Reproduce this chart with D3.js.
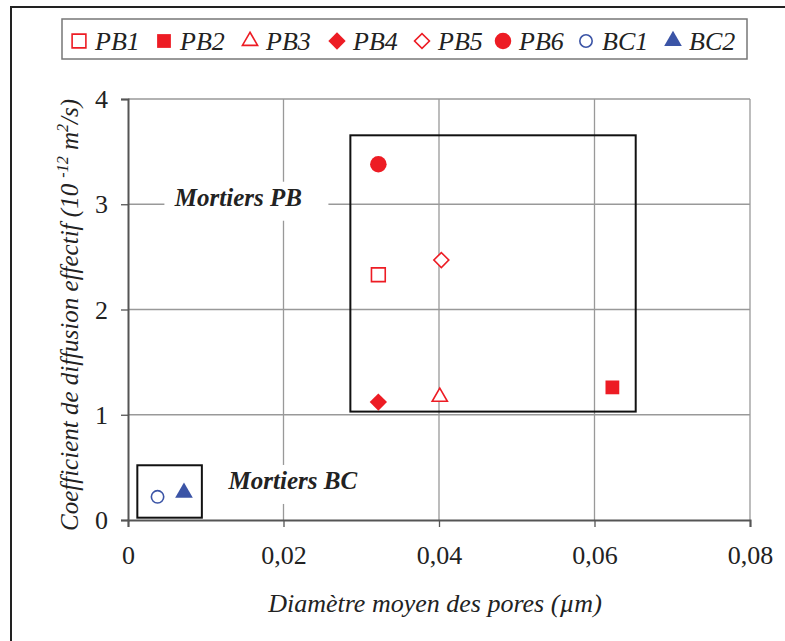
<!DOCTYPE html>
<html>
<head>
<meta charset="utf-8">
<script src="https://cdn.jsdelivr.net/npm/d3@7"></script>
<style>
  body { margin: 0; background: #fff; }
  #chart text { font-family: "Liberation Serif", "Times New Roman", Times, serif; }
</style>
</head>
<body>
<svg id="chart" width="785" height="641"></svg>
<script>
// series
var names   = ["PB1", "PB2", "PB3", "PB4", "PB5", "PB6", "BC1", "BC2"];
var diam    = [0.0322, 0.0623, 0.0401, 0.0322, 0.0403, 0.0322, 0.0038, 0.0072];
var coef    = [2.33, 1.26, 1.17, 1.12, 2.47, 3.38, 0.22, 0.26];
var shapes  = ["square", "square", "triangle", "diamond", "diamond", "circle", "circle", "triangle"];
var filled  = [false, true, false, true, false, true, false, true];
var colors  = ["#ed1c24", "#ed1c24", "#ed1c24", "#ed1c24", "#ed1c24", "#ed1c24", "#3b54a6", "#3b54a6"];

var xTicks = [0, 0.02, 0.04, 0.06, 0.08];
var xTickLabels = ["0", "0,02", "0,04", "0,06", "0,08"];
var yTicks = [0, 1, 2, 3, 4];
var yTickLabels = ["0", "1", "2", "3", "4"];

// group boxes (data units) and their labels
var groupNames = ["Mortiers PB", "Mortiers BC"];
var groupX0 = [0.0286, 0.0012];
var groupX1 = [0.0653, 0.0095];
var groupY0 = [1.03, 0.022];
var groupY1 = [3.655, 0.52];
var groupLabelX = [0.0142, 0.0212];
var groupLabelY = [2.986, 0.295];

var svg = d3.select("#chart");

var x = d3.scaleLinear().domain([0, 0.08]).range([128, 750]);
var y = d3.scaleLinear().domain([0, 4]).range([520, 99]);

var symbolType = {
    square: d3.symbolSquare,
    triangle: d3.symbolTriangle,
    diamond: d3.symbolSquare,
    circle: d3.symbolCircle
};
// area per shape, hollow / filled
function symSize(i) {
    var s = shapes[i];
    if (s === "square") return 190;
    if (s === "circle") return filled[i] ? 215 : 120;
    if (s === "diamond") return filled[i] ? 150 : 112;
    return filled[i] ? 135 : 100;
}

// outer frame (left + top only, picture is cropped)
svg.append("path")
   .attr("d", "M11,641 L11,7 L785,7")
   .attr("fill", "none")
   .attr("stroke", "#222")
   .attr("stroke-width", 2);

// grid
var grid = svg.append("g");
grid.selectAll(".vg")
    .data(xTicks.slice(1))
    .enter()
    .append("line")
    .attr("x1", d => x(d)).attr("x2", d => x(d))
    .attr("y1", y(4)).attr("y2", y(0))
    .attr("stroke", "#999").attr("stroke-width", 1.3);
grid.selectAll(".hg")
    .data(yTicks.slice(1))
    .enter()
    .append("line")
    .attr("x1", x(0)).attr("x2", x(0.08))
    .attr("y1", d => y(d)).attr("y2", d => y(d))
    .attr("stroke", "#999").attr("stroke-width", 1.3);

// axes
var xAxis = d3.axisBottom(x).tickValues(xTicks).tickSize(7)
              .tickFormat((d, i) => xTickLabels[i]);
var yAxis = d3.axisLeft(y).tickValues(yTicks).tickSize(7)
              .tickFormat((d, i) => yTickLabels[i]);

var gx = svg.append("g").attr("transform", "translate(0," + y(0) + ")").call(xAxis);
var gy = svg.append("g").attr("transform", "translate(" + x(0) + ",0)").call(yAxis);

[gx, gy].forEach(g => {
    g.attr("font-family", null).attr("font-size", null);
    g.select(".domain").attr("stroke", "#555").attr("stroke-width", 2);
    g.selectAll(".tick line").attr("stroke", "#555").attr("stroke-width", 1.3);
    g.selectAll(".tick text")
     .attr("fill", "#222")
     .style("font-size", "26px");
});
gx.selectAll(".tick text").attr("y", 44).attr("dy", 0);
gy.selectAll(".tick text").attr("x", -20).attr("dy", "0.33em");

// group boxes
var groups = svg.append("g");
groups.selectAll("rect.box")
      .data(groupNames)
      .enter()
      .append("rect")
      .attr("class", "box")
      .attr("x", (d, i) => x(groupX0[i]))
      .attr("y", (d, i) => y(groupY1[i]))
      .attr("width", (d, i) => x(groupX1[i]) - x(groupX0[i]))
      .attr("height", (d, i) => y(groupY0[i]) - y(groupY1[i]))
      .attr("fill", "none")
      .attr("stroke", "#111")
      .attr("stroke-width", 2);

var lbl = groups.selectAll("g.lbl")
      .data(groupNames)
      .enter()
      .append("g")
      .attr("class", "lbl")
      .attr("transform", (d, i) => "translate(" + x(groupLabelX[i]) + "," + y(groupLabelY[i]) + ")");

lbl.append("rect")
   .attr("x", -74).attr("y", -24)
   .attr("width", 164).attr("height", 39)
   .attr("fill", "#fff");

lbl.append("text")
   .attr("text-anchor", "middle")
   .style("font-size", "25px")
   .style("font-weight", "bold")
   .style("font-style", "italic")
   .attr("fill", "#222")
   .text(d => d);

// points
var pts = svg.append("g");
pts.selectAll("path.pt")
   .data(names)
   .enter()
   .append("path")
   .attr("class", "pt")
   .attr("d", (d, i) => d3.symbol().type(symbolType[shapes[i]]).size(symSize(i))())
   .attr("transform", (d, i) => "translate(" + x(diam[i]) + "," + y(coef[i]) + ")" +
                                 (shapes[i] === "diamond" ? " rotate(45)" : ""))
   .attr("fill", (d, i) => filled[i] ? colors[i] : "#fff")
   .attr("stroke", (d, i) => colors[i])
   .attr("stroke-width", (d, i) => filled[i] ? 0 : 1.6);

// legend
var leg = svg.append("g");
leg.append("rect")
   .attr("x", 62).attr("y", 19)
   .attr("width", 685).attr("height", 40)
   .attr("fill", "#fff")
   .attr("stroke", "#777")
   .attr("stroke-width", 1.5);

var legX = [79, 164, 250, 337, 422, 503, 586, 673];
var item = leg.selectAll("g.item")
    .data(names)
    .enter()
    .append("g")
    .attr("class", "item")
    .attr("transform", (d, i) => "translate(" + legX[i] + ",41)");

item.append("path")
    .attr("d", (d, i) => d3.symbol().type(symbolType[shapes[i]]).size(symSize(i))())
    .attr("transform", (d, i) => shapes[i] === "diamond" ? "rotate(45)" : null)
    .attr("fill", (d, i) => filled[i] ? colors[i] : "#fff")
    .attr("stroke", (d, i) => colors[i])
    .attr("stroke-width", (d, i) => filled[i] ? 0 : 1.6);

item.append("text")
    .attr("x", 16)
    .attr("y", 9)
    .style("font-size", "26px")
    .style("font-style", "italic")
    .attr("fill", "#222")
    .text(d => d);

// axis titles
svg.append("text")
   .attr("x", 435).attr("y", 612)
   .attr("text-anchor", "middle")
   .style("font-size", "26px")
   .style("font-style", "italic")
   .attr("fill", "#222")
   .text("Diamètre moyen des pores (µm)");

var yt = svg.append("text")
   .attr("transform", "translate(78,315) rotate(-90)")
   .attr("text-anchor", "middle")
   .style("font-size", "25px")
   .style("font-style", "italic")
   .attr("fill", "#222");
yt.append("tspan").text("Coefficient de diffusion effectif (10 ");
yt.append("tspan").attr("dy", -10).style("font-size", "16px").text("-12");
yt.append("tspan").attr("dy", 10).text(" m");
yt.append("tspan").attr("dy", -10).style("font-size", "16px").text("2");
yt.append("tspan").attr("dy", 10).text("/s)");
</script>
</body>
</html>
